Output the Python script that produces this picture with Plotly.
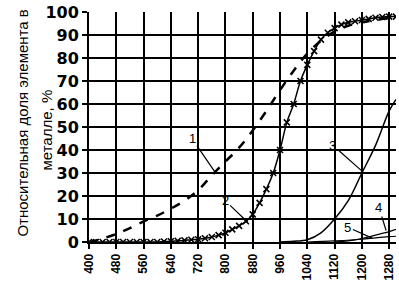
import plotly.graph_objects as go

# Curve 1 (dashed)
t1 = [400, 440, 480, 520, 560, 600, 640, 680, 720, 760, 800, 840, 880, 920, 960,
      1000, 1040, 1080, 1120, 1160, 1200, 1240, 1280, 1300]
v1 = [0, 1.5, 3.5, 6, 9, 11.5, 14.5, 18, 22.5, 29, 35, 41, 48.5, 57, 66,
      74.5, 82, 87.5, 91.5, 94, 95.5, 96.5, 97.5, 98]

# Curve 2 (line with x markers)
t2 = [400, 420, 440, 460, 480, 500, 520, 540, 560, 580, 600, 620, 640, 660, 680,
      700, 720, 740, 760, 780, 800, 820, 840, 860, 880, 900, 920, 940, 960, 980,
      1000, 1020, 1040, 1060, 1080, 1100, 1120, 1140, 1160, 1180, 1200, 1220,
      1240, 1260, 1280, 1300]
v2 = [0, 0, 0, 0, 0, 0, 0, 0, 0, 0, 0, 0.2, 0.3, 0.5, 0.7,
      1, 1.2, 1.6, 2.2, 3, 4, 5.5, 7, 9, 12, 17, 23, 30, 40, 52,
      60, 70, 77, 83, 88, 91, 93, 94.5, 95.5, 96, 96.5, 97,
      97.5, 97.8, 98, 98]

# Curve 3
t3 = [960, 1000, 1040, 1080, 1120, 1160, 1200, 1240, 1280, 1300]
v3 = [0, 0.3, 1, 4, 10, 18, 30, 42, 57, 62]

# Curve 4
t4 = [1120, 1160, 1200, 1240, 1280, 1300]
v4 = [0, 0.5, 1.5, 3, 4.5, 5.5]

# Curve 5
t5 = [1040, 1120, 1200, 1240, 1280, 1300]
v5 = [0, 0.5, 1.2, 1.8, 2.3, 2.5]

xticks = [400, 480, 560, 640, 720, 800, 880, 960, 1040, 1120, 1200, 1280]
yticks = [0, 10, 20, 30, 40, 50, 60, 70, 80, 90, 100]

# curve labels: (text, text x, text y, tip x, tip y)
labels = [("1", 702, 45, 769, 30.5),
          ("2", 799, 18, 866, 8.5),
          ("3", 1115, 42, 1203, 30.5),
          ("4", 1250, 15, 1271, 5),
          ("5", 1159, 6.4, 1230, 1.7)]

fig = go.Figure()
fig.add_trace(go.Scatter(x=t1, y=v1, mode="lines", line=dict(color="black", width=2.5, dash="dash"),
                         line_shape="spline"))
fig.add_trace(go.Scatter(x=t2, y=v2, mode="lines+markers", line=dict(color="black", width=1.5),
                         marker=dict(symbol="x-thin", size=6, line=dict(color="black", width=1.5)),
                         line_shape="spline"))
fig.add_trace(go.Scatter(x=t3, y=v3, mode="lines", line=dict(color="black", width=1.5), line_shape="spline"))
fig.add_trace(go.Scatter(x=t4, y=v4, mode="lines", line=dict(color="black", width=1.2), line_shape="spline"))
fig.add_trace(go.Scatter(x=t5, y=v5, mode="lines", line=dict(color="black", width=1.2), line_shape="spline"))

for txt, tx, ty, ax_, ay_ in labels:
    fig.add_annotation(x=ax_, y=ay_, ax=tx, ay=ty, xref="x", yref="y", axref="x", ayref="y",
                       text=txt, showarrow=True, arrowhead=0, arrowwidth=1.2, arrowcolor="black",
                       font=dict(family="Liberation Sans", size=13, color="black"))

fig.add_annotation(x=-0.2508, y=0.517, xref="paper", yref="paper", text="Относительная доля элемента в",
                   textangle=-90, showarrow=False, font=dict(family="Liberation Sans", size=15, color="black"))
fig.add_annotation(x=-0.1726, y=0.487, xref="paper", yref="paper", text="металле, %",
                   textangle=-90, showarrow=False, font=dict(family="Liberation Sans", size=15, color="black"))

fig.update_layout(
    width=399, height=292, margin=dict(l=89, r=3, t=6, b=50),
    paper_bgcolor="white", plot_bgcolor="white", showlegend=False,
    xaxis=dict(range=[400, 1300], tickvals=xticks, ticktext=[str(v) for v in xticks],
               tickangle=-90, showgrid=True, gridcolor="black", gridwidth=1.5,
               showline=True, linecolor="black", linewidth=2, ticks="outside", ticklen=5,
               tickcolor="black", tickwidth=1.5, zeroline=False, ticklabeloverflow="allow",
               tickfont=dict(family="Liberation Sans", size=12, color="black", weight="bold")),
    yaxis=dict(range=[0, 100], tickvals=yticks, showgrid=True, gridcolor="black", gridwidth=1.5,
               showline=True, linecolor="black", linewidth=2, ticks="outside", ticklen=5,
               tickcolor="black", tickwidth=1.5, zeroline=False, ticklabeloverflow="allow",
               tickfont=dict(family="DejaVu Sans", size=16, color="black", weight="bold")),
)

fig.write_html("out.html", config={"displayModeBar": False},
               post_script="document.body.style.margin='0';")
